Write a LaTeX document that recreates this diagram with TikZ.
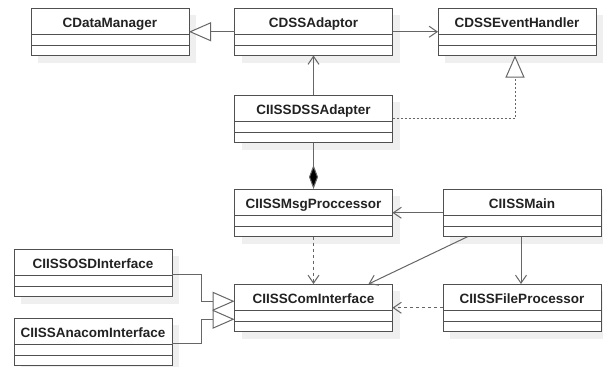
\documentclass[tikz,border=0pt]{standalone}
\usepackage{fontspec}
\setmainfont{Liberation Sans}
\usetikzlibrary{arrows.meta,calc}
\definecolor{boxc}{HTML}{505050}
\definecolor{linec}{HTML}{666666}
\definecolor{shadowc}{HTML}{EFEFEF}
\definecolor{txtc}{HTML}{222222}
\newcommand\umlclass[4]{%
  \fill[shadowc] ({#2-79+7},{#3+7}) rectangle ++(158,47.5);
  \node[cls] (#1) at (#2,{#3+23.75}) {};
  \draw[boxline] ($(#1.north west)+(0,26)$) -- ($(#1.north east)+(0,26)$);
  \draw[boxline] ($(#1.north west)+(0,37)$) -- ($(#1.north east)+(0,37)$);
  \node[lbl] (#1-t) at ($(#1.north)+(0,19.7)$) {#4};
}
\begin{document}
\begin{tikzpicture}[x=1pt,y=-1pt,
  cls/.style={rectangle,draw=boxc,fill=white,line width=1pt,minimum width=158pt,minimum height=47.5pt,inner sep=0pt,outer sep=0pt},
  boxline/.style={draw=boxc,line width=1pt},
  lbl/.style={anchor=base,inner sep=0pt,text=txtc,font=\fontsize{13.5}{15}\selectfont\bfseries},
  conn/.style={draw=linec,line width=1pt},
  assoc/.style={conn,-{Straight Barb[length=8pt,width=11pt]}},
  dep/.style={conn,dash pattern=on 3pt off 3pt,-{Straight Barb[length=8pt,width=11pt]}},
  gen/.style={conn,-{Triangle[length=22pt,width=19pt,fill=white]}},
  real/.style={conn,dash pattern=on 2pt off 2pt,-{Triangle[length=22pt,width=19pt,fill=white]}},
  comp/.style={conn,-{Diamond[length=24pt,width=9pt,fill=black]}}
]
\useasboundingbox (0,0) rectangle (603,367);
\fill[white] (0,0) rectangle (603,367);
\umlclass{cdm}{110}{8}{CDataManager}
\umlclass{cda}{313.5}{8}{CDSSAdaptor}
\umlclass{ceh}{517}{8}{CDSSEventHandler}
\umlclass{dss}{313.5}{95}{CIISSDSSAdapter}
\umlclass{msg}{313.5}{189}{CIISSMsgProccessor}
\umlclass{main}{522}{189}{CIISSMain}
\umlclass{com}{313.5}{284}{CIISSComInterface}
\umlclass{file}{522}{284}{CIISSFileProcessor}
\umlclass{osd}{93}{249}{CIISSOSDInterface}
\umlclass{ana}{93}{318}{CIISSAnacomInterface}
% connectors
\draw[gen] ($(cda.west)+(0,0)$) -- (cdm.east);
\draw[assoc] (cda.east) -- (ceh.west);
\draw[assoc] (dss.north) -- (cda.south);
\draw[real] ($(dss.east)+(0,-0.5)$) -| ($(ceh.south)+(-2,0)$);
\draw[comp] (dss.south) -- (msg.north);
\draw[assoc] (main.west) -- (msg.east);
\draw[assoc] ($(main.south west)+(25,0)$) -- ($(com.north east)+(-24,0)$);
\draw[assoc] ($(main.south)+(-1,0)$) -- ($(file.north)+(-1,0)$);
\draw[dep] (msg.south) -- (com.north);
\draw[dep] (file.west) -- (com.east);
\draw[gen] ($(osd.east)+(0,2)$) -- ++(29,0) |- ($(com.west)+(0,-6.5)$);
\draw[gen] ($(ana.east)+(0,1.5)$) -- ++(29,0) |- ($(com.west)+(0,11.5)$);
\end{tikzpicture}
\end{document}
